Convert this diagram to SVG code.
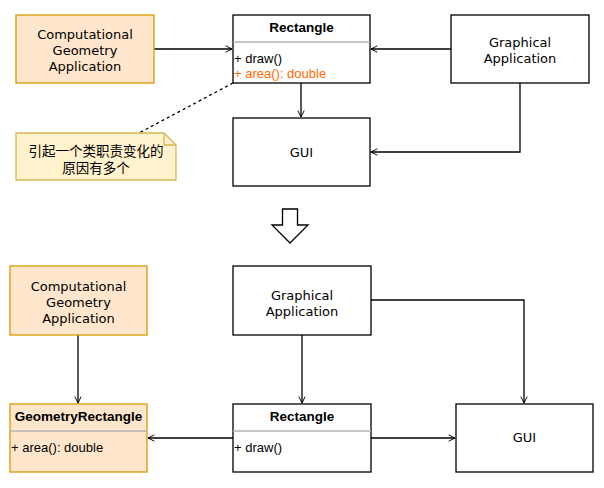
<svg xmlns="http://www.w3.org/2000/svg" width="604" height="488" viewBox="0 0 604 488">
<style>
.box{fill:#fff;stroke:#000;stroke-width:1.3}
.org{fill:#ffe6cc;stroke:#d79b00;stroke-width:1.3}
.note{fill:#fff2cc;stroke:#d6b656;stroke-width:1.3}
.sep{stroke:#b3b3b3;stroke-width:1.3}
.lbl{font-family:"DejaVu Sans","Open Sans",sans-serif;font-size:13px;fill:#000;text-anchor:middle}
.ttl{font-family:"Liberation Sans",Arial,sans-serif;font-size:13.5px;font-weight:bold;fill:#000;text-anchor:middle}
.mem{font-family:"Liberation Sans",Arial,sans-serif;font-size:13px;fill:#000}
.hl{fill:#ff6a00}
.cjk{font-family:"Liberation Sans","Noto Sans CJK SC",sans-serif;font-size:13.5px;fill:#000;text-anchor:middle}
.con{fill:none;stroke:#000;stroke-width:1.3}
</style>
<defs>
<marker id="open" viewBox="0 0 10 10" refX="9" refY="5" markerWidth="8" markerHeight="8" markerUnits="userSpaceOnUse" orient="auto">
<path d="M1,1 L9,5 L1,9" fill="none" stroke="#000" stroke-width="1.2"/>
</marker>
</defs>

<g id="connectors">
<line class="con" x1="154" y1="49" x2="232" y2="49" marker-end="url(#open)"/>
<line class="con" x1="451" y1="49" x2="371" y2="49" marker-end="url(#open)"/>
<line class="con" x1="301" y1="83" x2="301" y2="117" marker-end="url(#open)"/>
<polyline class="con" points="520,83 520,152 371,152" marker-end="url(#open)"/>
<line class="con" x1="233" y1="83" x2="139" y2="133" stroke-dasharray="3,3"/>
<line class="con" x1="78" y1="335" x2="78" y2="403" marker-end="url(#open)"/>
<line class="con" x1="302" y1="335" x2="302" y2="403" marker-end="url(#open)"/>
<polyline class="con" points="371,300 524,300 524,403" marker-end="url(#open)"/>
<line class="con" x1="371" y1="438" x2="455" y2="438" marker-end="url(#open)"/>
<line class="con" x1="233" y1="438" x2="148" y2="438" marker-end="url(#open)"/>
</g>

<g id="cga-top">
<rect class="org" x="16" y="15" width="138" height="68"/>
<text class="lbl" x="85" y="39">Computational<tspan x="85" dy="16">Geometry</tspan><tspan x="85" dy="16">Application</tspan></text>
</g>

<g id="rectangle-top">
<rect class="box" x="233" y="15" width="137" height="68"/>
<line class="sep" x1="233" y1="42" x2="370" y2="42"/>
<text class="ttl" x="301.5" y="32">Rectangle</text>
<text class="mem" x="234" y="63">+ draw()</text>
<text class="mem hl" x="234" y="78">+ area(): double</text>
</g>

<g id="ga-top">
<rect class="box" x="451" y="15" width="138" height="68"/>
<text class="lbl" x="520" y="47">Graphical<tspan x="520" dy="16">Application</tspan></text>
</g>

<g id="gui-top">
<rect class="box" x="233" y="118" width="137" height="68"/>
<text class="lbl" x="301.5" y="157">GUI</text>
</g>

<g id="note">
<path class="note" d="M16,133 H164 L176,145 V180 H16 Z"/>
<path d="M164,133 V145 H176" fill="none" stroke="#d6b656" stroke-width="1.3"/>
<text class="cjk" x="96" y="156">引起一个类职责变化的<tspan x="96" dy="16.5">原因有多个</tspan></text>
</g>

<g id="transform-arrow">
<path d="M282.5,209 H297.5 V225 H308 L290,243 L272,225 H282.5 Z" fill="#fff" stroke="#000" stroke-width="1.3"/>
</g>

<g id="cga-bottom">
<rect class="org" x="10" y="266" width="137" height="69"/>
<text class="lbl" x="78.5" y="291">Computational<tspan x="78.5" dy="16">Geometry</tspan><tspan x="78.5" dy="16">Application</tspan></text>
</g>

<g id="ga-bottom">
<rect class="box" x="233" y="266" width="138" height="69"/>
<text class="lbl" x="302" y="300">Graphical<tspan x="302" dy="16">Application</tspan></text>
</g>

<g id="geometryrectangle">
<rect class="org" x="10" y="404" width="137" height="68"/>
<line class="sep" x1="10" y1="431" x2="147" y2="431"/>
<text class="ttl" x="78.5" y="421">GeometryRectangle</text>
<text class="mem" x="11" y="452">+ area(): double</text>
</g>

<g id="rectangle-bottom">
<rect class="box" x="233" y="404" width="138" height="68"/>
<line class="sep" x1="233" y1="431" x2="371" y2="431"/>
<text class="ttl" x="302" y="421">Rectangle</text>
<text class="mem" x="234" y="452">+ draw()</text>
</g>

<g id="gui-bottom">
<rect class="box" x="456" y="404" width="137" height="68"/>
<text class="lbl" x="524.5" y="442">GUI</text>
</g>
</svg>
